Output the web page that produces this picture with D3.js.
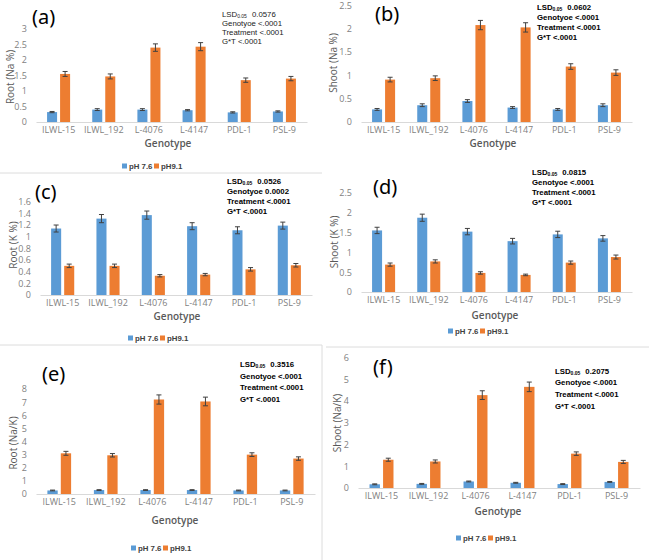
<!DOCTYPE html>
<html>
<head>
<meta charset="utf-8">
<script src="https://cdn.jsdelivr.net/npm/d3@7"></script>
<style>
    body { margin: 0; background: #fff; }
    svg { display: block; font-family: "Open Sans", "Noto Sans", sans-serif; }
</style>
</head>
<body>
<svg id="fig" width="649" height="560"></svg>
<script>
var genotypes = ["ILWL-15", "ILWL_192", "L-4076", "L-4147", "PDL-1", "PSL-9"];
var seriesNames = ["pH 7.6", "pH9.1"];
var panelTags = ["(a)", "(b)", "(c)", "(d)", "(e)", "(f)"];
var yTitles = ["Root (Na %)", "Shoot (Na %)", "Root (K %)", "Shoot (K %)", "Root (Na/K)", "Shoot (Na/K)"];
var yMax = [3, 2.5, 1.6, 2.5, 8, 6];
var yStep = [0.5, 0.5, 0.2, 0.5, 1, 1];

// (a) root Na %
var rootNa76 = [0.32, 0.40, 0.40, 0.38, 0.31, 0.34];
var rootNa91 = [1.55, 1.47, 2.40, 2.43, 1.35, 1.40];
var rootNa76Err = [0.02, 0.03, 0.03, 0.02, 0.02, 0.02];
var rootNa91Err = [0.08, 0.08, 0.12, 0.13, 0.07, 0.07];
// (b) shoot Na %
var shootNa76 = [0.27, 0.36, 0.45, 0.31, 0.27, 0.36];
var shootNa91 = [0.91, 0.94, 2.08, 2.03, 1.19, 1.06];
var shootNa76Err = [0.02, 0.03, 0.03, 0.02, 0.02, 0.03];
var shootNa91Err = [0.05, 0.05, 0.10, 0.10, 0.06, 0.06];
// (c) root K %
var rootK76 = [1.14, 1.31, 1.37, 1.18, 1.11, 1.19];
var rootK91 = [0.50, 0.50, 0.33, 0.35, 0.44, 0.51];
var rootK76Err = [0.06, 0.07, 0.07, 0.06, 0.06, 0.06];
var rootK91Err = [0.03, 0.03, 0.02, 0.02, 0.03, 0.03];
// (d) shoot K %
var shootK76 = [1.55, 1.87, 1.52, 1.28, 1.45, 1.35];
var shootK91 = [0.69, 0.77, 0.48, 0.43, 0.74, 0.88];
var shootK76Err = [0.08, 0.09, 0.08, 0.07, 0.08, 0.07];
var shootK91Err = [0.04, 0.04, 0.03, 0.02, 0.04, 0.05];
// (e) root Na/K
var rootRatio76 = [0.27, 0.30, 0.30, 0.30, 0.27, 0.27];
var rootRatio91 = [3.10, 2.95, 7.20, 7.05, 3.00, 2.70];
var rootRatio76Err = [0.03, 0.03, 0.03, 0.03, 0.03, 0.03];
var rootRatio91Err = [0.15, 0.13, 0.35, 0.33, 0.14, 0.13];
// (f) shoot Na/K
var shootRatio76 = [0.17, 0.19, 0.30, 0.24, 0.18, 0.28];
var shootRatio91 = [1.30, 1.22, 4.27, 4.65, 1.58, 1.20];
var shootRatio76Err = [0.02, 0.02, 0.02, 0.02, 0.02, 0.02];
var shootRatio91Err = [0.07, 0.07, 0.20, 0.22, 0.08, 0.07];

// ANOVA summary text
var lsdValues = ["0.0576", "0.0602", "0.0526", "0.0815", "0.3516", "0.2075"];
var genotypeP = ["<.0001", "<.0001", "0.0002", "<.0001", "<.0001", "<.0001"];
var treatmentP = ["<.0001", "<.0001", "<.0001", "<.0001", "<.0001", "<.0001"];
var interactionP = ["<.0001", "<.0001", "<.0001", "<.0001", "<.0001", "<.0001"];

var values = [
    [rootNa76, rootNa91, rootNa76Err, rootNa91Err],
    [shootNa76, shootNa91, shootNa76Err, shootNa91Err],
    [rootK76, rootK91, rootK76Err, rootK91Err],
    [shootK76, shootK91, shootK76Err, shootK91Err],
    [rootRatio76, rootRatio91, rootRatio76Err, rootRatio91Err],
    [shootRatio76, shootRatio91, shootRatio76Err, shootRatio91Err]
];

// layout of each panel, in page pixels
var layout = [
    {xl: 36, xr: 307, y0: 122, yt: 29, tag: [32, 24], yt_x: 10, yt_y: 77, gx: 168, gy: 147, stat: [222, 14, 9], legend: [124, 166]},
    {xl: 361, xr: 632, y0: 122, yt: 5.5, tag: [375, 21], yt_x: 333, yt_y: 63, gx: 493, gy: 147, stat: [537, 7, 10], legend: null},
    {xl: 40, xr: 312, y0: 295, yt: 201.7, tag: [35, 199], yt_x: 13, yt_y: 245, gx: 177, gy: 320, stat: [227, 181, 10], legend: [130, 338]},
    {xl: 361, xr: 632, y0: 292, yt: 192.7, tag: [373, 194], yt_x: 334, yt_y: 242, gx: 495, gy: 319, stat: [532, 172, 10], legend: [450, 331]},
    {xl: 36, xr: 315, y0: 494, yt: 389, tag: [42, 381], yt_x: 13, yt_y: 443, gx: 175, gy: 524, stat: [240, 364, 11.8], legend: [133, 548]},
    {xl: 358, xr: 640, y0: 488, yt: 357.5, tag: [373, 374], yt_x: 337, yt_y: 423, gx: 498, gy: 515, stat: [555, 371, 11.7], legend: [458, 538]}
];

var colors = ["#5b9bd5", "#ed7d31"];
var svg = d3.select("#fig");

// light chart-area borders
var borders = [[0, 173, 322, 173], [0, 345, 322, 345], [322, 345, 322, 560], [326, 347, 649, 347]];
svg.selectAll("line.border").data(borders).enter().append("line")
    .attr("x1", function (d) { return d[0]; }).attr("y1", function (d) { return d[1]; })
    .attr("x2", function (d) { return d[2]; }).attr("y2", function (d) { return d[3]; })
    .attr("stroke", "#dcdcdc").attr("stroke-width", 1);

function fmt(v) { return String(+v.toFixed(2)); }

layout.forEach(function (L, i) {
    var g = svg.append("g");
    var v = values[i];

    var x0 = d3.scaleBand().domain(genotypes).range([L.xl, L.xr])
        .paddingInner(0.49).paddingOuter(0.245);
    var x1 = d3.scaleBand().domain(seriesNames).range([0, x0.bandwidth()])
        .paddingInner(0.231);
    var y = d3.scaleLinear().domain([0, yMax[i]]).range([L.y0, L.yt]);

    // y axis (labels only)
    var yAxis = d3.axisLeft(y)
        .tickValues(d3.range(0, yMax[i] + 1e-9, yStep[i]))
        .tickSize(0).tickPadding(9).tickFormat(fmt);
    var ya = g.append("g").attr("transform", "translate(" + L.xl + ",0)").call(yAxis);
    ya.select(".domain").remove();
    ya.selectAll("text").attr("fill", "#7f7f7f").style("font-size", "9px")
        .style("font-family", "'Open Sans', sans-serif");

    // bars
    var rows = genotypes.map(function (name, k) {
        return seriesNames.map(function (s, j) {
            return {cat: name, series: s, j: j, val: v[j][k], err: v[j + 2][k]};
        });
    });
    var grp = g.selectAll("g.grp").data(rows).enter().append("g")
        .attr("transform", function (d) { return "translate(" + x0(d[0].cat) + ",0)"; });
    grp.selectAll("rect").data(function (d) { return d; }).enter().append("rect")
        .attr("x", function (d) { return x1(d.series); })
        .attr("width", x1.bandwidth())
        .attr("y", function (d) { return y(d.val); })
        .attr("height", function (d) { return y(0) - y(d.val); })
        .attr("fill", function (d) { return colors[d.j]; });

    // error bars
    var eb = grp.selectAll("g.err").data(function (d) { return d; }).enter().append("g")
        .attr("stroke", "#404040").attr("stroke-width", 1);
    eb.append("line")
        .attr("x1", function (d) { return x1(d.series) + x1.bandwidth() / 2; })
        .attr("x2", function (d) { return x1(d.series) + x1.bandwidth() / 2; })
        .attr("y1", function (d) { return y(d.val - d.err); })
        .attr("y2", function (d) { return y(d.val + d.err); });
    [-1, 1].forEach(function (sgn) {
        eb.append("line")
            .attr("x1", function (d) { return x1(d.series) + x1.bandwidth() / 2 - 2.5; })
            .attr("x2", function (d) { return x1(d.series) + x1.bandwidth() / 2 + 2.5; })
            .attr("y1", function (d) { return y(d.val + sgn * d.err); })
            .attr("y2", function (d) { return y(d.val + sgn * d.err); });
    });

    // x axis
    var xa = g.append("g").attr("transform", "translate(0," + L.y0 + ")")
        .call(d3.axisBottom(x0).tickSize(0).tickPadding(5).tickSizeOuter(0));
    xa.select(".domain").attr("stroke", "#d9d9d9");
    xa.selectAll("text").attr("fill", "#7f7f7f").style("font-size", "9px")
        .style("font-family", "'Open Sans', sans-serif");

    // titles
    g.append("text").attr("x", L.gx).attr("y", L.gy).attr("text-anchor", "middle")
        .attr("fill", "#595959").style("font-size", "10px").style("font-weight", "600")
        .text("Genotype");
    g.append("text").attr("transform", "translate(" + L.yt_x + "," + L.yt_y + ") rotate(-90)")
        .attr("text-anchor", "middle").attr("dy", "0.35em")
        .attr("fill", "#595959").style("font-size", "10px").text(yTitles[i]);
    g.append("text").attr("x", L.tag[0]).attr("y", L.tag[1])
        .attr("fill", "#000").style("font-size", "20px")
        .style("font-family", "'Noto Sans', sans-serif").text(panelTags[i]);

    // stats block
    var st = g.append("g").attr("transform", "translate(" + L.stat[0] + "," + L.stat[1] + ")")
        .attr("fill", i === 0 ? "#222" : "#000").style("font-size", "7.8px")
        .style("font-family", "'Liberation Sans', Arial, sans-serif")
        .style("white-space", "pre")
        .style("font-weight", i === 0 ? "normal" : "bold");
    var t0 = st.append("text").attr("dy", "0.35em");
    t0.append("tspan").text("LSD");
    t0.append("tspan").attr("dy", "1.5").style("font-size", "5px").text("0.05");
    t0.append("tspan").attr("dy", "-1.5").attr("dx", "5").text(lsdValues[i]);
    var lines = ["Genotyoe  " + genotypeP[i], "Treatment  " + treatmentP[i], "G*T  " + interactionP[i]];
    st.selectAll("text.ln").data(lines).enter().append("text")
        .attr("y", function (d, k) { return (k + 1) * L.stat[2]; })
        .attr("dy", "0.35em")
        .text(function (d) { return d; });

    // legend
    if (L.legend) {
        var lg = g.append("g").attr("transform", "translate(" + L.legend[0] + "," + L.legend[1] + ")");
        var items = lg.selectAll("g").data(seriesNames).enter().append("g")
            .attr("transform", function (d, k) { return "translate(" + (k * 32) + ",0)"; });
        items.append("rect").attr("x", -2).attr("y", -2.5).attr("width", 5).attr("height", 5)
            .attr("fill", function (d, k) { return colors[k]; });
        items.append("text").attr("x", 5).attr("dy", "0.33em")
            .attr("fill", "#404040").style("font-size", "7.8px").style("font-weight", "bold")
            .style("font-family", "'Liberation Sans', Arial, sans-serif")
            .text(function (d) { return d; });
    }
});
</script>
</body>
</html>
